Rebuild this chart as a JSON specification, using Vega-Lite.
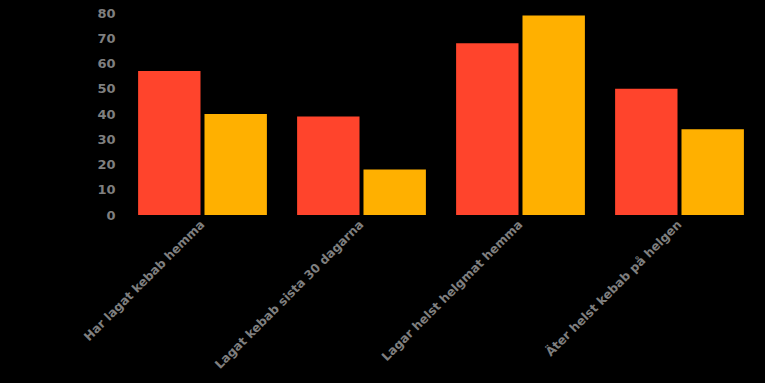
{
  "$schema": "https://vega.github.io/schema/vega-lite/v6.json",
  "width": 636,
  "height": 202,
  "autosize": "none",
  "padding": {"left": 123, "top": 13, "right": 6, "bottom": 168},
  "background": "#000000",
  "config": {"view": {"stroke": null}},
  "data": {
    "values": [
      {"kategori": "Har lagat kebab hemma", "serie": "A", "varde": 57},
      {"kategori": "Har lagat kebab hemma", "serie": "B", "varde": 40},
      {"kategori": "Lagat kebab sista 30 dagarna", "serie": "A", "varde": 39},
      {"kategori": "Lagat kebab sista 30 dagarna", "serie": "B", "varde": 18},
      {"kategori": "Lagar helst helgmat hemma", "serie": "A", "varde": 68},
      {"kategori": "Lagar helst helgmat hemma", "serie": "B", "varde": 79},
      {"kategori": "Äter helst kebab på helgen", "serie": "A", "varde": 50},
      {"kategori": "Äter helst kebab på helgen", "serie": "B", "varde": 34}
    ]
  },
  "mark": {"type": "bar"},
  "encoding": {
    "x": {
      "field": "kategori",
      "type": "nominal",
      "sort": null,
      "scale": {"paddingInner": 0.19, "paddingOuter": 0.095},
      "axis": {
        "title": null,
        "labelAngle": -45,
        "labelAlign": "right",
        "labelBaseline": "middle",
        "labelPadding": 7,
        "ticks": false,
        "tickSize": 0,
        "domain": false,
        "labelFont": "DejaVu Sans",
        "labelFontWeight": "bold",
        "labelFontSize": 12.2,
        "labelColor": "#7f7f7f",
        "labelLimit": 400
      }
    },
    "xOffset": {"field": "serie", "type": "nominal", "scale": {"paddingInner": 0.06}},
    "y": {
      "field": "varde",
      "type": "quantitative",
      "scale": {"domain": [0, 80]},
      "axis": {
        "title": null,
        "values": [0, 10, 20, 30, 40, 50, 60, 70, 80],
        "grid": false,
        "domain": false,
        "ticks": false,
        "tickSize": 0,
        "labelPadding": 8,
        "labelFont": "DejaVu Sans",
        "labelFontWeight": "bold",
        "labelFontSize": 13,
        "labelColor": "#7f7f7f"
      }
    },
    "color": {
      "field": "serie",
      "type": "nominal",
      "scale": {"domain": ["A", "B"], "range": ["#FF442C", "#FFB000"]},
      "legend": null
    }
  }
}
